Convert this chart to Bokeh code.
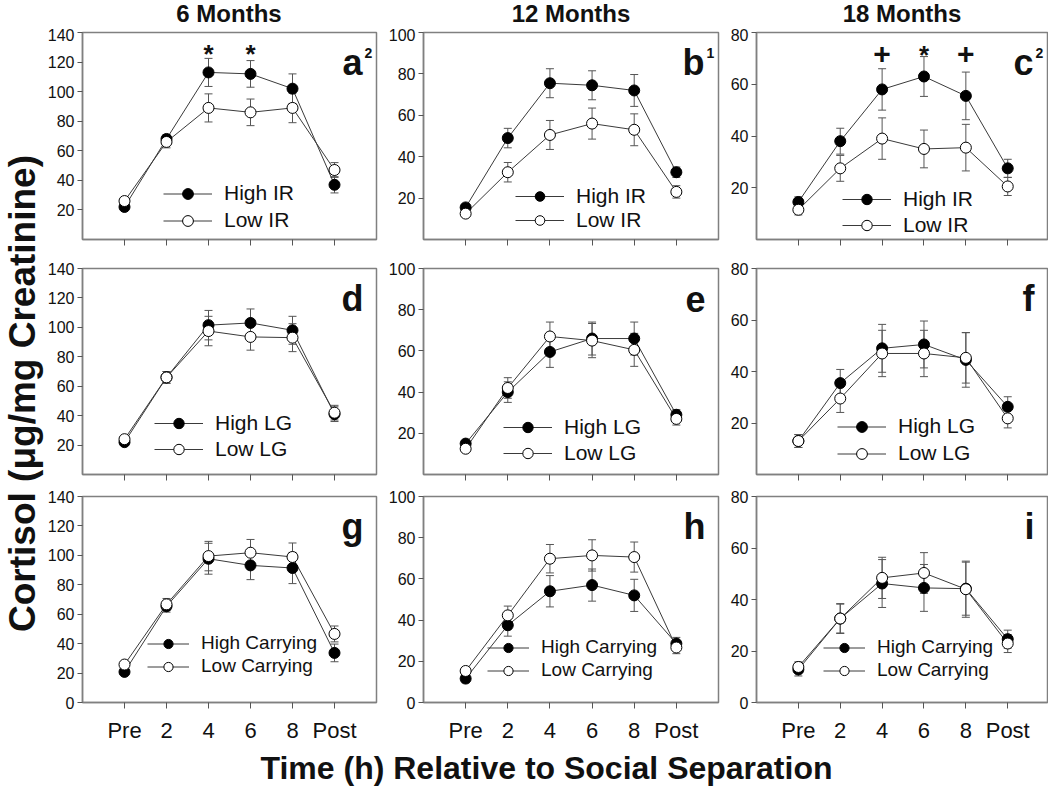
import math
from bokeh.plotting import figure
from bokeh.models import (ColumnDataSource, Whisker, TeeHead, Legend, LegendItem,
                          Label, FixedTicker, Range1d)
from bokeh.layouts import row, column
from bokeh.embed import file_html
from bokeh.resources import INLINE
from bokeh.core.properties import value

FONT = "Liberation Sans"

# ---------------- data ----------------
time_labels = ["Pre", "2", "4", "6", "8", "Post"]
time_pos = [0, 1, 2, 3, 4, 5]
col_titles = ["6 Months", "12 Months", "18 Months"]
col_ymax = [140, 100, 80]
group_names = [("High IR", "Low IR"), ("High LG", "Low LG"), ("High Carrying", "Low Carrying")]
panel_letters = [["a", "b", "c"], ["d", "e", "f"], ["g", "h", "i"]]
panel_sups = [["2", "1", "2"], ["", "", ""], ["", "", ""]]

# Row 1: IR
high_a = [22, 68, 113, 112, 102, 37]
high_a_err = [2, 3, 9.5, 9, 10, 5.5]
low_a = [26, 66, 89, 86, 89, 47]
low_a_err = [2, 4, 9.5, 9, 10, 5]

high_b = [15.5, 49, 75.5, 74.5, 72, 32.5]
high_b_err = [1.5, 4.7, 7, 7, 7.7, 2.5]
low_b = [12.5, 32.5, 50.5, 56, 53, 23]
low_b_err = [1.5, 4.7, 7, 7.5, 7.7, 3]

high_c = [14.5, 38, 58, 63, 55.5, 27.5]
high_c_err = [2, 5, 8, 7.7, 9.2, 3.5]
low_c = [11.5, 27.5, 39, 35, 35.5, 20.5]
low_c_err = [2, 5, 8, 7.3, 9, 3.5]

# Row 2: LG
high_d = [22, 66, 101.5, 103, 98, 41]
high_d_err = [2, 4, 10, 9.5, 9.5, 5]
low_d = [24, 66, 97.5, 93.5, 93, 42]
low_d_err = [2, 4, 10, 9, 9.5, 5]

high_e = [15, 40, 59.5, 66, 66, 29]
high_e_err = [1.5, 5, 7.5, 8, 8, 2.5]
low_e = [12.5, 42, 67, 65, 60.5, 27]
low_e_err = [1.5, 5, 7, 8.3, 8, 3]

high_f = [13, 35.5, 49, 50.5, 44.5, 26.3]
high_f_err = [2.5, 5.3, 9.3, 9.1, 10.6, 3.9]
low_f = [13, 29.5, 47, 47, 45.3, 21.8]
low_f_err = [2.5, 5.4, 9, 9, 9.8, 3.7]

# Row 3: Carrying
high_g = [20.8, 65.4, 97.7, 93.2, 91.4, 33.7]
high_g_err = [2, 4, 10.5, 9.7, 10.6, 6]
low_g = [25.8, 66.7, 99.5, 101.8, 98.9, 46.6]
low_g_err = [2, 4, 10, 9, 9.5, 5.4]

high_h = [11.6, 37.5, 54, 57, 52, 28.6]
high_h_err = [2, 5.3, 7.6, 7.8, 7.8, 3]
low_h = [15.3, 42.3, 69.8, 71.4, 70.6, 26.7]
low_h_err = [1.5, 4.5, 6.9, 7.6, 7.3, 3]

high_i = [12.8, 32.6, 46.2, 44.5, 44.2, 24.6]
high_i_err = [2.5, 5.8, 9.3, 9.1, 10.3, 3.5]
low_i = [13.8, 32.6, 48.4, 50.3, 44, 22.9]
low_i_err = [2, 5.6, 8, 7.9, 10.9, 3.5]

# significance markers (time index, value, symbol)
sig_a_x = [2, 3]
sig_a_y = [125.5, 125.5]
sig_a_t = ["*", "*"]
sig_c_x = [2, 3, 4]
sig_c_y = [71.5, 71.2, 71.5]
sig_c_t = ["+", "*", "+"]

highs = [[high_a, high_b, high_c], [high_d, high_e, high_f], [high_g, high_h, high_i]]
high_errs = [[high_a_err, high_b_err, high_c_err], [high_d_err, high_e_err, high_f_err],
             [high_g_err, high_h_err, high_i_err]]
lows = [[low_a, low_b, low_c], [low_d, low_e, low_f], [low_g, low_h, low_i]]
low_errs = [[low_a_err, low_b_err, low_c_err], [low_d_err, low_e_err, low_f_err],
            [low_g_err, low_h_err, low_i_err]]
sigs = {(0, 0): (sig_a_x, sig_a_y, sig_a_t), (0, 2): (sig_c_x, sig_c_y, sig_c_t)}

# ---------------- layout / style ----------------
YLAB_W = 44
XLAB_H = 40
TITLE_H = 28
col_w = [339, 337, 328]
col_lb = [37, 40, 36]
col_rb = [7, 2, 1]
col_xmax = [6, 6, 5.95]
row_h = [225, 231, 262]
row_tb = [4, 15, 12]
row_bb = [14, 10, 44]

leg_loc = [[(81, 5.5), (92, 7), (86, 1)],
           [(72, 12), (80, 8), (81, 7.5)],
           [(65, 24.5), (64, 20.5), (67, 20.5)]]
leg_gh = [[27, 24, 26], [26, 26, 27], [23, 23, 23]]
leg_fs = ["21px", "21px", "19px"]
leg_gw = [49, 49, 42]
sig_fs = {"*": "26px", "+": "30px"}

GRAY = "#808080"
TICK = "#555555"
TXT = "#111111"


def blank_fig(w, h, xr=(0, 1)):
    f = figure(width=w, height=h, x_range=Range1d(*xr), y_range=Range1d(0, 1),
               x_axis_type=None, y_axis_type=None, output_backend="svg",
               toolbar_location=None)
    f.min_border = 0
    f.outline_line_color = None
    f.grid.visible = False
    return f


def make_title(c):
    xmin, xmax = -1, col_xmax[c]
    f = blank_fig(col_w[c], TITLE_H, (xmin, xmax))
    f.min_border_left = col_lb[c]
    f.min_border_right = col_rb[c]
    f.add_layout(Label(x=(xmin + xmax) / 2, y=0.54, text=col_titles[c],
                       text_align="center", text_baseline="middle",
                       text_font=FONT, text_font_size="24px", text_font_style="bold",
                       text_color=TXT))
    return f


def make_panel(r, c):
    ymax = col_ymax[c]
    xmin, xmax = -1, col_xmax[c]
    p = figure(width=col_w[c], height=row_h[r],
               x_range=Range1d(xmin, xmax), y_range=Range1d(0, ymax),
               output_backend="svg", toolbar_location=None)
    p.min_border_left = col_lb[c]
    p.min_border_right = col_rb[c]
    p.min_border_top = row_tb[r]
    p.min_border_bottom = row_bb[r]
    p.grid.visible = False
    p.outline_line_color = GRAY
    p.outline_line_width = 1.5
    p.background_fill_color = "white"
    p.border_fill_color = "white"

    # y axis
    start = 0 if r == 2 else 20
    yax = p.yaxis[0]
    yax.ticker = FixedTicker(ticks=list(range(start, ymax + 1, 20)))
    yax.major_label_text_font = FONT
    yax.major_label_text_font_size = "16px"
    yax.major_label_text_color = TXT
    yax.major_tick_out = 5
    yax.major_tick_in = 0
    yax.minor_tick_out = 0
    yax.minor_tick_in = 0
    yax.major_label_standoff = 3
    yax.axis_line_color = GRAY
    yax.axis_line_width = 1.5
    yax.major_tick_line_color = TICK

    # x axis
    xax = p.xaxis[0]
    xax.ticker = FixedTicker(ticks=time_pos)
    xax.major_tick_out = 6
    xax.major_tick_in = 0
    xax.minor_tick_out = 0
    xax.minor_tick_in = 0
    xax.axis_line_color = GRAY
    xax.axis_line_width = 1.5
    xax.major_tick_line_color = TICK
    if r == 2:
        xax.major_label_overrides = {t: lab for t, lab in zip(time_pos, time_labels)}
        xax.major_label_text_font = FONT
        xax.major_label_text_font_size = "22px"
        xax.major_label_text_color = TXT
        xax.major_label_standoff = 9
    else:
        xax.major_label_overrides = {t: "" for t in time_pos}
        xax.major_label_text_font_size = "0px"
        xax.major_label_standoff = 0

    hi = highs[r][c]
    hie = high_errs[r][c]
    lo = lows[r][c]
    loe = low_errs[r][c]
    src_h = ColumnDataSource(dict(x=time_pos, y=hi,
                                  up=[v + e for v, e in zip(hi, hie)],
                                  dn=[v - e for v, e in zip(hi, hie)]))
    src_l = ColumnDataSource(dict(x=time_pos, y=lo,
                                  up=[v + e for v, e in zip(lo, loe)],
                                  dn=[v - e for v, e in zip(lo, loe)]))

    for src in (src_h, src_l):
        w = Whisker(source=src, base="x", upper="up", lower="dn",
                    line_color=TICK, line_width=1, level="underlay",
                    upper_head=TeeHead(size=8, line_color=TICK, line_width=1),
                    lower_head=TeeHead(size=8, line_color=TICK, line_width=1))
        p.add_layout(w)

    lh = p.line("x", "y", source=src_h, line_color="#3a3a3a", line_width=1)
    ll = p.line("x", "y", source=src_l, line_color="#3a3a3a", line_width=1)
    sh = p.scatter("x", "y", source=src_h, size=11, fill_color="black",
                   line_color="black", line_width=1)
    sl = p.scatter("x", "y", source=src_l, size=11, fill_color="white",
                   line_color="black", line_width=1)

    hname, lname = group_names[r]
    gh = leg_gh[r][c]
    legend = Legend(items=[LegendItem(label=hname, renderers=[lh, sh]),
                           LegendItem(label=lname, renderers=[ll, sl])],
                    location=leg_loc[r][c], orientation="vertical",
                    border_line_color=None, background_fill_alpha=0,
                    padding=0, margin=0, spacing=0,
                    glyph_width=leg_gw[r], glyph_height=gh, label_height=gh,
                    label_standoff=12, label_text_font=FONT,
                    label_text_font_size=leg_fs[r], label_text_color=TXT,
                    label_text_baseline="middle")
    p.add_layout(legend)

    # panel letter
    letter = panel_letters[r][c]
    sup = panel_sups[r][c]
    p.add_layout(Label(x=xmax, y=ymax, x_offset=-14 if sup else -13, y_offset=-30,
                       text=letter, text_align="right", text_baseline="middle",
                       text_font=FONT, text_font_size="36px", text_font_style="bold",
                       text_color=TXT))
    if sup:
        p.add_layout(Label(x=xmax, y=ymax, x_offset=-12, y_offset=-20,
                           text=sup, text_align="left", text_baseline="middle",
                           text_font=FONT, text_font_size="14px", text_font_style="bold",
                           text_color=TXT))

    if (r, c) in sigs:
        sx, sy, st = sigs[(r, c)]
        for sym in sorted(set(st)):
            xs = [x for x, t in zip(sx, st) if t == sym]
            ys = [y for y, t in zip(sy, st) if t == sym]
            p.text(x=xs, y=ys, text=[sym] * len(xs), text_align="center",
                   text_baseline="middle", text_font=value(FONT),
                   text_font_size=sig_fs[sym], text_font_style="bold",
                   text_color=TXT)
    return p


title_row = row(*[make_title(c) for c in range(3)])
rows = []
for r in range(3):
    rows.append(row(*[make_panel(r, c) for c in range(3)]))

total_w = sum(col_w)
xlab = blank_fig(total_w, XLAB_H)
xlab.add_layout(Label(x=0.5, y=0, y_offset=19, text="Time (h) Relative to Social Separation",
                      text_align="center", text_baseline="middle", text_font=FONT,
                      text_font_size="32px", text_font_style="bold", text_color=TXT))

total_h = TITLE_H + sum(row_h) + XLAB_H
ylab = blank_fig(YLAB_W, total_h)
ylab.add_layout(Label(x=0.5, y=0.5, text="Cortisol (\u03bcg/mg Creatinine)",
                      angle=math.pi / 2, text_align="center", text_baseline="middle",
                      text_font=FONT, text_font_size="37px", text_font_style="bold",
                      text_color=TXT))

layout = row(ylab, column(title_row, *rows, xlab))

open("out.html", "w").write(file_html(layout, INLINE))
